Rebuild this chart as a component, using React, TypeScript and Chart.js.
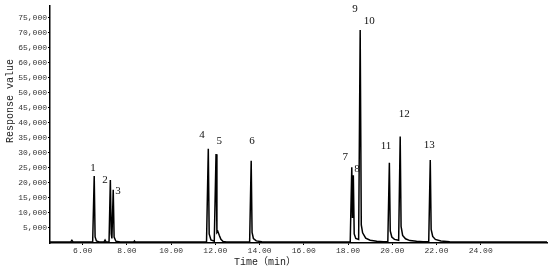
import React, { useEffect, useRef } from "react";
import { Chart, registerables } from "chart.js";

Chart.register(...registerables);

// Chromatogram trace: retention time (min) and detector response
const traceTime: number[] = [
  4.52, 5.45, 5.51, 5.57, 6.45, 6.52, 6.56, 6.62, 6.75, 6.96, 7.01, 7.06,
  7.19, 7.25, 7.29, 7.32, 7.38, 7.42, 7.5, 7.7, 8.3, 8.34, 8.38,
  11.6, 11.68, 11.72, 11.8, 11.95, 12.03, 12.07, 12.11, 12.18, 12.25, 12.35, 12.5,
  13.55, 13.62, 13.66, 13.72, 13.85, 14.1, 14.5,
  18.1, 18.17, 18.2, 18.24, 18.28, 18.35, 18.48, 18.55, 18.6, 18.66, 18.8, 19.0, 19.3, 19.6,
  19.8, 19.87, 19.91, 19.98, 20.1, 20.29, 20.36, 20.4, 20.47, 20.6, 20.8, 21.1, 21.4,
  21.65, 21.72, 21.76, 21.83, 21.95, 22.2, 22.6, 23.2, 24.0, 27.0,
];
const traceResponse: number[] = [
  300, 300, 900, 300, 300, 22300, 2000, 700, 350, 300, 1000, 300,
  300, 21000, 3000, 1500, 17700, 2000, 600, 350, 300, 700, 300,
  300, 31400, 3000, 1000, 600, 29600, 3500, 3900, 2500, 1200, 500, 350,
  300, 27400, 3500, 1500, 700, 400, 300,
  300, 25200, 8300, 22600, 3000, 1500, 1200, 70900, 6000, 3400, 1600, 900, 600, 450,
  400, 26700, 4000, 2000, 1200, 900, 35500, 5500, 2500, 1400, 800, 550, 450,
  400, 27600, 4500, 2200, 1200, 700, 450, 350, 300, 300,
];

// Peak numbers and where their labels sit (time, response)
const peakNames: string[] = ["1", "2", "3", "4", "5", "6", "7", "8", "9", "10", "11", "12", "13"];
const peakLabelTime: number[] = [6.47, 7.01, 7.6, 11.4, 12.17, 13.66, 17.87, 18.41, 18.32, 18.96, 19.72, 20.54, 21.67];
const peakLabelResponse: number[] = [24950, 20980, 17340, 35870, 33880, 33880, 28590, 24620, 77880, 73910, 32230, 42820, 32560];

const xTickValues: number[] = [6, 8, 10, 12, 14, 16, 18, 20, 22, 24];
const yTickValues: number[] = [5000, 10000, 15000, 20000, 25000, 30000, 35000, 40000, 45000, 50000, 55000, 60000, 65000, 70000, 75000];

const xTitle = "Time（min）";
const yTitle = "Response value";

const tickFont = { family: "'Liberation Mono', 'DejaVu Sans Mono', monospace", size: 8 };

export default function App() {
  const ref = useRef<HTMLCanvasElement | null>(null);

  useEffect(() => {
    document.body.style.margin = "0";
    const canvas = ref.current;
    if (!canvas) return;

    const labelsPlugin = {
      id: "peakLabels",
      afterDatasetsDraw(chart: any) {
        const { ctx, scales } = chart;
        ctx.save();
        ctx.fillStyle = "#111";
        ctx.font = "11px 'Liberation Serif', serif";
        ctx.textAlign = "center";
        ctx.textBaseline = "middle";
        peakNames.forEach((n, i) => {
          ctx.fillText(n, scales.x.getPixelForValue(peakLabelTime[i]), scales.y.getPixelForValue(peakLabelResponse[i]));
        });
        // axis titles
        ctx.font = "10px 'Liberation Mono', 'Noto Sans CJK SC', monospace";
        ctx.fillStyle = "#222";
        ctx.fillText(xTitle, 265, 262);
        ctx.translate(10, 101);
        ctx.rotate(-Math.PI / 2);
        ctx.fillText(yTitle, 0, 0);
        ctx.restore();
      },
    };

    const chart = new Chart(canvas, {
      type: "line",
      data: {
        datasets: [
          {
            data: traceTime.map((t, i) => ({ x: t, y: traceResponse[i] })),
            borderColor: "#000",
            borderWidth: 1.5,
            pointRadius: 0,
            tension: 0,
            fill: false,
          },
        ],
      },
      options: {
        animation: false,
        responsive: false,
        maintainAspectRatio: false,
        layout: { padding: { top: 4, right: 3, left: 0, bottom: 0 } },
        plugins: { legend: { display: false }, tooltip: { enabled: false } },
        scales: {
          x: {
            type: "linear",
            min: 4.52,
            max: 27.0,
            afterBuildTicks: (s: any) => {
              s.ticks = xTickValues.map((v) => ({ value: v }));
            },
            afterFit: (s: any) => {
              s.height = 29;
            },
            ticks: {
              callback: (v: any) => Number(v).toFixed(2),
              font: tickFont,
              color: "#333",
              maxRotation: 0,
              autoSkip: false,
              padding: 1,
            },
            grid: { drawOnChartArea: false, color: "#000", tickLength: 2 },
            border: { display: true, color: "#000", width: 1.5 },
          },
          y: {
            min: 0,
            max: 79000,
            afterBuildTicks: (s: any) => {
              s.ticks = yTickValues.map((v) => ({ value: v }));
            },
            afterFit: (s: any) => {
              s.width = 50;
            },
            ticks: {
              callback: (v: any) => Number(v).toLocaleString("en-US"),
              font: tickFont,
              color: "#333",
              autoSkip: false,
              padding: 1,
            },
            grid: { drawOnChartArea: false, color: "#000", tickLength: 2 },
            border: { display: true, color: "#000", width: 1.5 },
          },
        },
      },
      plugins: [labelsPlugin],
    });

    return () => chart.destroy();
  }, []);

  return (
    <div style={{ width: 550, height: 272 }}>
      <canvas ref={ref} width={550} height={272} style={{ display: "block" }} />
    </div>
  );
}
